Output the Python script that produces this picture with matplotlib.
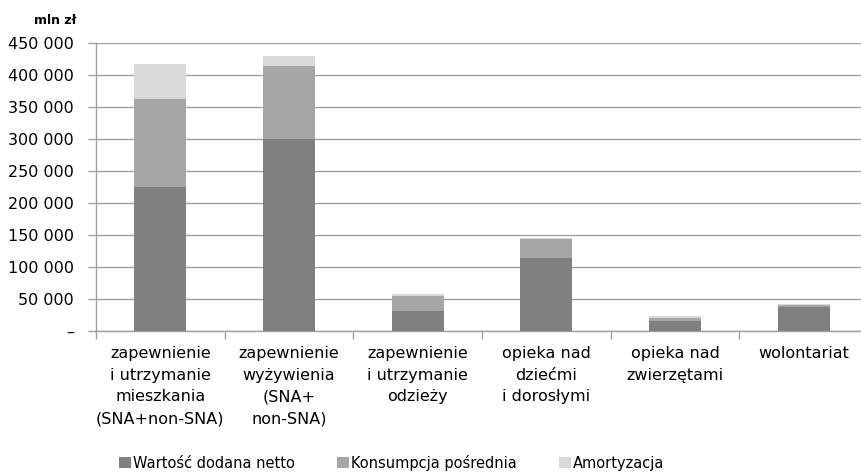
import numpy as np
import matplotlib
matplotlib.use('Agg')
from matplotlib import pyplot as plt
from matplotlib.ticker import FuncFormatter

plt.rcParams['font.family'] = ['Liberation Sans Narrow', 'DejaVu Sans']

# dane
categories = ['zapewnienie\ni utrzymanie\nmieszkania\n(SNA+non-SNA)',
              'zapewnienie\nwyżywienia\n(SNA+\nnon-SNA)',
              'zapewnienie\ni utrzymanie\nodzieży',
              'opieka nad\ndziećmi\ni dorosłymi',
              'opieka nad\nzwierzętami',
              'wolontariat']
wartosc_dodana = [225000, 300000, 32000, 113500, 16000, 38000]
konsumpcja = [138000, 114000, 23000, 29500, 5000, 2000]
amortyzacja = [54000, 16000, 2500, 2000, 2000, 2000]
series_names = ['Wartość dodana netto', 'Konsumpcja pośrednia', 'Amortyzacja']
colors = ['#808080', '#a6a6a6', '#d9d9d9']

fig = plt.figure(figsize=(8.62, 4.72), dpi=100)
ax = fig.add_axes([96/862, 1-331/472, 772/862, 288/472])

x = np.arange(len(categories))
w = 0.405
b1 = np.array(wartosc_dodana)
b2 = b1 + np.array(konsumpcja)
ax.bar(x, wartosc_dodana, w, color=colors[0], label=series_names[0], zorder=3)
ax.bar(x, konsumpcja, w, bottom=b1, color=colors[1], label=series_names[1], zorder=3)
ax.bar(x, amortyzacja, w, bottom=b2, color=colors[2], label=series_names[2], zorder=3)

ax.set_xlim(-0.5, 5.5)
ax.set_ylim(0, 450000)
ax.set_yticks(np.arange(0, 450001, 50000))

def fmt(v, pos):
    if v == 0:
        return '–'
    return '{:,.0f}'.format(v).replace(',', ' ')

ax.yaxis.set_major_formatter(FuncFormatter(fmt))
ax.yaxis.grid(True, color='#a0a0a0', linewidth=1.0, zorder=0)
ax.tick_params(axis='y', length=6, width=1, color='#a0a0a0', labelsize=11.5, pad=10)

ax.set_xticks(x)
ax.set_xticklabels(categories, fontsize=11.5, linespacing=1.55)
ax.set_xticks(np.arange(-0.5, 6, 1), minor=True)
ax.tick_params(axis='x', which='major', length=0, pad=11)
ax.tick_params(axis='x', which='minor', length=6, width=1, color='#a0a0a0')

for s in ['top', 'right']:
    ax.spines[s].set_visible(False)
for s in ['left', 'bottom']:
    ax.spines[s].set_color('#a0a0a0')
    ax.spines[s].set_linewidth(1.0)

fig.text(55/862, 1-21/472, 'mln zł', fontsize=9, fontweight='bold', ha='center', va='center')

fig.legend(loc='lower center', bbox_to_anchor=(392/862, -0.025), ncol=3, frameon=False,
           fontsize=10.5, handlelength=0.8, handleheight=0.8, handletextpad=0.15,
           columnspacing=2.9)

fig.savefig('out.png', dpi=100)
